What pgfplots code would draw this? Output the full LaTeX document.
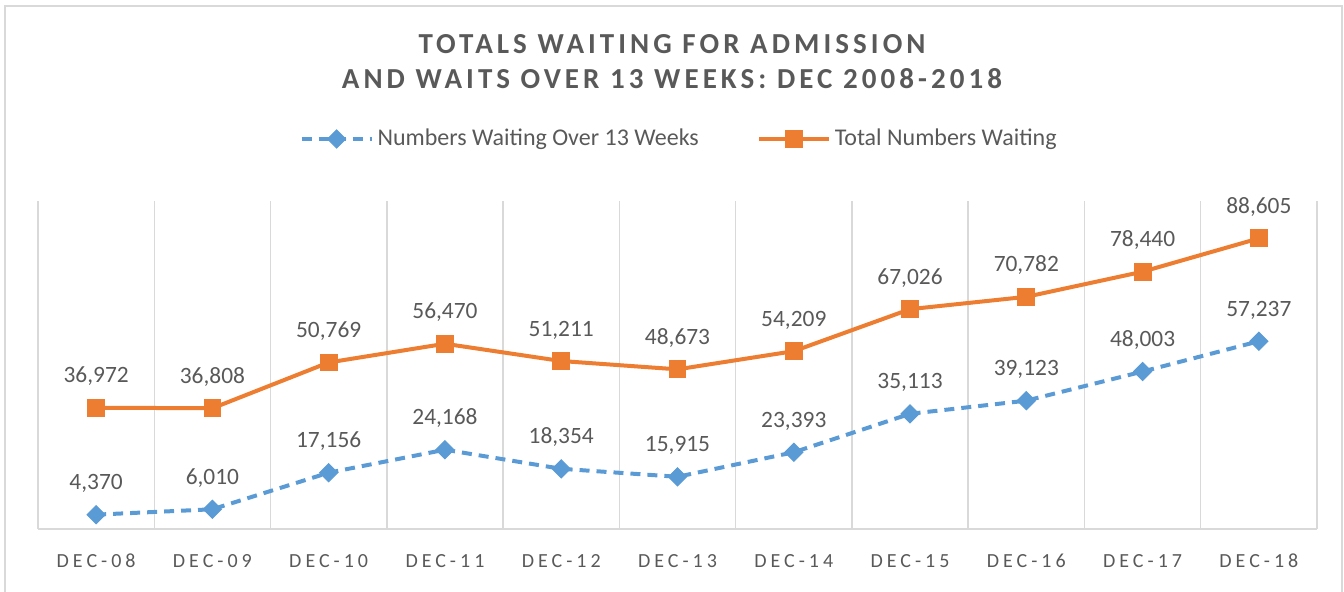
\documentclass[border=0pt]{standalone}
\usepackage{pgfplots}
\pgfplotsset{compat=1.18}
\usepackage{fontspec}
\setmainfont{Carlito}
\newfontfamily\spaced[LetterSpace=20]{Carlito}
\newfontfamily\titlefont[LetterSpace=14]{Carlito}
\definecolor{cblue}{HTML}{5B9BD5}
\definecolor{corange}{HTML}{ED7D31}
\definecolor{ctext}{HTML}{595959}
\definecolor{cgrid}{HTML}{D9D9D9}
\begin{document}
\begin{tikzpicture}
\path[use as bounding box] (0,0) rectangle (672pt,296pt);
\draw[cgrid, line width=1pt] (2.5pt,-5pt) rectangle (671pt,293pt);
\node[align=center, text=ctext, font=\titlefont\bfseries\fontsize{14.5}{17.5}\selectfont] at (336pt,265pt)
  {TOTALS WAITING FOR ADMISSION\\AND WAITS OVER 13 WEEKS: DEC 2008-2018};
\begin{axis}[
  at={(19pt,31.5pt)}, anchor=south west,
  scale only axis, width=639.5pt, height=164pt,
  xmin=-0.5, xmax=10.5, ymin=0, ymax=100000,
  clip=false,
  axis y line=none,
  axis x line*=bottom,
  x axis line style={cgrid, line width=0.75pt},
  xtick={0,...,10},
  xticklabels={DEC-08,DEC-09,DEC-10,DEC-11,DEC-12,DEC-13,DEC-14,DEC-15,DEC-16,DEC-17,DEC-18},
  xticklabel style={font=\spaced\fontsize{10}{12}\selectfont, text=ctext, anchor=base, yshift=-19.5pt},
  major tick length=0pt,
  minor xtick={-0.5,0.5,...,10.5},
  minor tick length=0pt,
  xminorgrids,
  minor grid style={cgrid, line width=0.75pt},
  ytick=\empty,
  nodes near coords={\pgfmathprintnumber[fixed,precision=0,1000 sep={,},assume math mode=true]{\pgfplotspointmeta}},
  point meta=y,
  every node near coord/.append style={font=\fontsize{11.7}{14}\selectfont, text=ctext, anchor=base, yshift=12.5pt},
  legend columns=2,
  legend style={at={(0.502,1.189)}, anchor=center, draw=none, fill=none,
    font=\fontsize{12}{14}\selectfont, text=ctext,
    /tikz/every even column/.append style={column sep=27pt}},
  legend image code/.code={\draw[mark repeat=2,mark phase=2,#1] plot coordinates {(0pt,0pt) (17.5pt,0pt) (35pt,0pt)};},
]
\addplot[cblue, line width=2pt, dash pattern=on 5pt off 3.5pt, mark=square*, mark size=3.2pt, mark options={solid, rotate=45, fill=cblue, draw=cblue, line width=0.5pt}]
coordinates {(0,4370) (1,6010) (2,17156) (3,24168) (4,18354) (5,15915) (6,23393) (7,35113) (8,39123) (9,48003) (10,57237)};
\addlegendentry{Numbers Waiting Over 13 Weeks}
\addplot[corange, line width=2pt, mark=square*, mark size=4.2pt, mark options={solid, fill=corange, draw=corange, line width=0.5pt}]
coordinates {(0,36972) (1,36808) (2,50769) (3,56470) (4,51211) (5,48673) (6,54209) (7,67026) (8,70782) (9,78440) (10,88605)};
\addlegendentry{Total Numbers Waiting}
\end{axis}
\end{tikzpicture}
\end{document}
